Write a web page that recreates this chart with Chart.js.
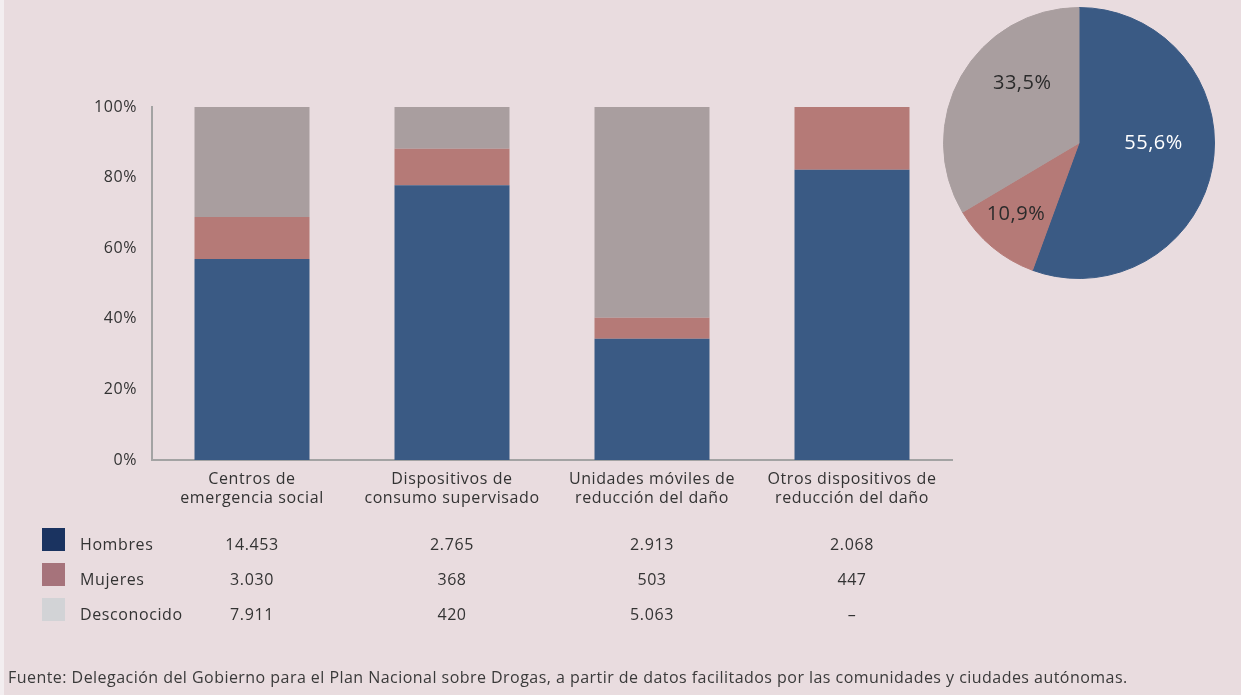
<!DOCTYPE html>
<html>
<head>
<meta charset="utf-8">
<script src="https://cdn.jsdelivr.net/npm/chart.js@4.4.1/dist/chart.umd.min.js"></script>
<style>
  html, body { margin: 0; padding: 0; }
  body { width: 1241px; height: 695px; position: relative; overflow: hidden; background: #e9dcdf; }
  #edge { position: absolute; left: 0; top: 0; width: 4px; height: 695px; background: #f3eef0; }
  #bars { position: absolute; left: 0; top: 0; }
  #pie { position: absolute; left: 939px; top: 3px; }
  #source { position: absolute; left: 8px; top: 666px; font: 16px "Open Sans", sans-serif; letter-spacing: 0.46px; color: #3a3a3a; white-space: nowrap; }
</style>
</head>
<body>
<div id="edge"></div>
<canvas id="bars" width="1241" height="695"></canvas>
<canvas id="pie" width="280" height="280"></canvas>
<div id="source">Fuente: Delegación del Gobierno para el Plan Nacional sobre Drogas, a partir de datos facilitados por las comunidades y ciudades autónomas.</div>

<script>
// data
const categories = [
  ['Centros de', 'emergencia social'],
  ['Dispositivos de', 'consumo supervisado'],
  ['Unidades móviles de', 'reducción del daño'],
  ['Otros dispositivos de', 'reducción del daño']
];
const seriesNames = ['Hombres', 'Mujeres', 'Desconocido'];
const hombres = [14453, 2765, 2913, 2068];
const mujeres = [3030, 368, 503, 447];
const desconocido = [7911, 420, 5063, null];
const yTicks = [0, 20, 40, 60, 80, 100];

// styles
const FONT = '"Open Sans", sans-serif';
const TEXT = '#333333';
const barColors = ['#3a5a84', '#b57a77', '#a99e9f'];
const swatchColors = ['#1a3360', '#a6737b', '#d2d3d6'];
const pieLabelColors = ['#ffffff', '#2b2b2b', '#2b2b2b'];
const pieLabelRadius = [0.55, 0.70, 0.61];
const pieLabelTurn = [-10, 2, 17];

const series = [hombres, mujeres, desconocido];
const totals = categories.map((c, i) => series.reduce((s, arr) => s + (arr[i] || 0), 0));
const pct = arr => arr.map((v, i) => v == null ? null : v / totals[i] * 100);

const fmtNum = n => n == null ? '–' : String(n).replace(/\B(?=(\d{3})+(?!\d))/g, '.');

// wider letters, closer to the original typeface
const spacing = {
  id: 'spacing',
  beforeDraw(chart) { chart.ctx.letterSpacing = chart.options.letterSpacing || '0px'; }
};

const tablePlugin = {
  id: 'dataTable',
  afterDraw(chart) {
    const ctx = chart.ctx;
    const xs = chart.scales.x;
    ctx.save();
    ctx.font = '16px ' + FONT;
    ctx.textBaseline = 'middle';
    series.forEach((arr, r) => {
      const y = 545 + r * 35;
      ctx.fillStyle = swatchColors[r];
      ctx.fillRect(42, y - 17, 23, 23);
      ctx.fillStyle = TEXT;
      ctx.textAlign = 'left';
      ctx.fillText(seriesNames[r], 80, y);
      ctx.textAlign = 'center';
      arr.forEach((v, i) => ctx.fillText(fmtNum(v), xs.getPixelForValue(i), y));
    });
    ctx.restore();
  }
};

new Chart(document.getElementById('bars'), {
  type: 'bar',
  data: {
    labels: categories,
    datasets: series.map((arr, k) => ({
      label: seriesNames[k],
      data: pct(arr),
      backgroundColor: barColors[k],
      borderWidth: 0,
      barPercentage: 0.575,
      categoryPercentage: 1
    }))
  },
  options: {
    responsive: false,
    animation: false,
    letterSpacing: '0.6px',
    layout: { padding: { left: 0, right: 289, top: 107, bottom: 175 } },
    plugins: { legend: { display: false }, tooltip: { enabled: false } },
    scales: {
      x: {
        stacked: true,
        grid: { display: false, drawTicks: false },
        border: { display: true, color: '#a3a3a3', width: 2 },
        ticks: { color: TEXT, font: { family: FONT, size: 16 }, padding: 10, maxRotation: 0, autoSkip: false },
        afterFit(s) { s.height = 60; }
      },
      y: {
        stacked: true,
        min: 0,
        max: 100,
        grid: { display: false, drawTicks: false },
        border: { display: true, color: '#a3a3a3', width: 2 },
        afterBuildTicks(s) { s.ticks = yTicks.map(v => ({ value: v })); },
        ticks: { color: TEXT, font: { family: FONT, size: 16 }, padding: 15, callback: v => v + '%' },
        afterFit(s) { s.width = 152; }
      }
    }
  },
  plugins: [spacing, tablePlugin]
});

const pieTotals = series.map(arr => arr.reduce((s, v) => s + (v || 0), 0));
const pieSum = pieTotals.reduce((a, b) => a + b, 0);

const pieLabelPlugin = {
  id: 'pieLabels',
  afterDraw(chart) {
    const ctx = chart.ctx;
    const meta = chart.getDatasetMeta(0);
    ctx.save();
    ctx.font = '20px ' + FONT;
    ctx.letterSpacing = '0.5px';
    ctx.textAlign = 'center';
    ctx.textBaseline = 'middle';
    meta.data.forEach((arc, i) => {
      const a = (arc.startAngle + arc.endAngle) / 2 + pieLabelTurn[i] * Math.PI / 180;
      const r = arc.outerRadius * pieLabelRadius[i];
      const txt = (pieTotals[i] / pieSum * 100).toFixed(1).replace('.', ',') + '%';
      ctx.fillStyle = pieLabelColors[i];
      ctx.fillText(txt, arc.x + Math.cos(a) * r, arc.y + Math.sin(a) * r);
    });
    ctx.restore();
  }
};

new Chart(document.getElementById('pie'), {
  type: 'pie',
  data: {
    labels: seriesNames,
    datasets: [{
      data: pieTotals,
      backgroundColor: barColors,
      borderColor: barColors,
      borderWidth: 1
    }]
  },
  options: {
    responsive: false,
    animation: false,
    layout: { padding: 4 },
    plugins: { legend: { display: false }, tooltip: { enabled: false } }
  },
  plugins: [pieLabelPlugin]
});
</script>
</body>
</html>
